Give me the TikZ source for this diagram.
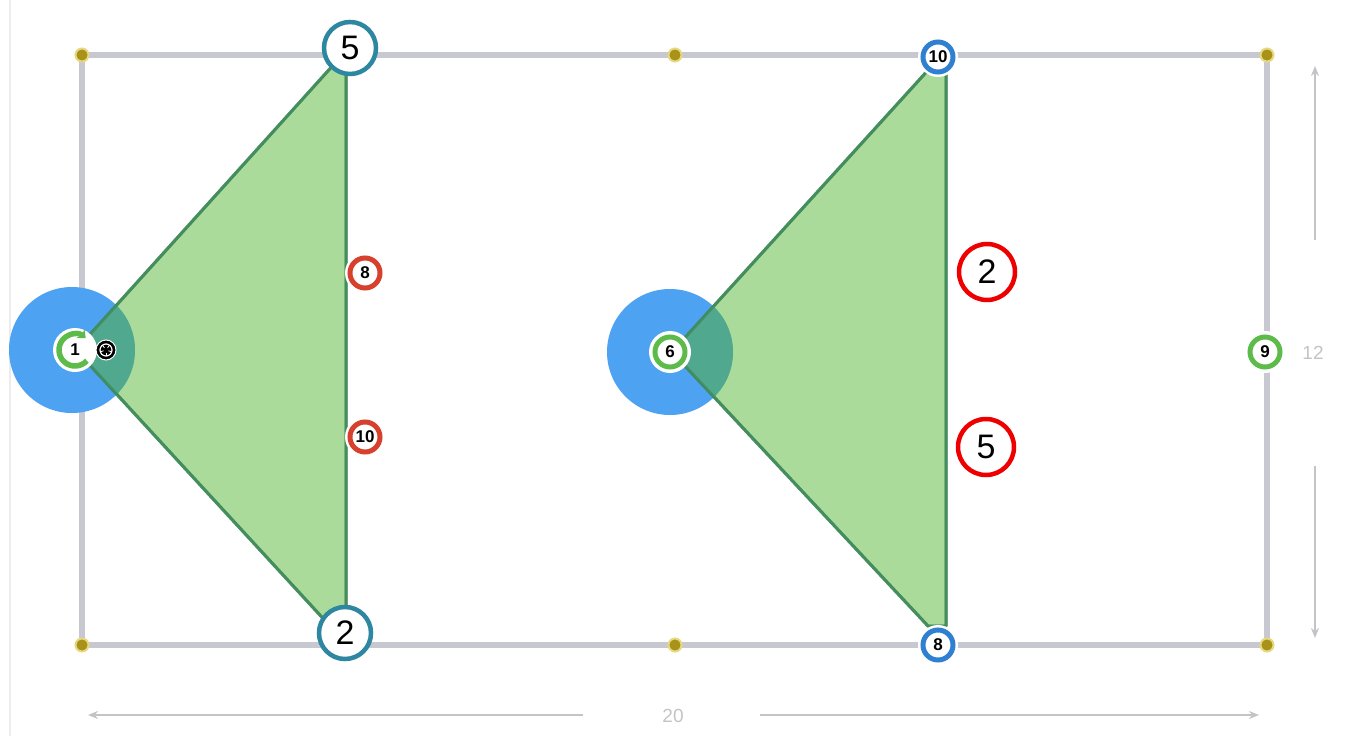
\documentclass[tikz,border=0pt]{standalone}
\usepackage{fontspec}
\setmainfont{Liberation Sans}
\usetikzlibrary{arrows.meta}
\definecolor{fieldgray}{HTML}{C8C8D0}
\definecolor{zoneblue}{HTML}{4DA3F2}
\definecolor{conegreen}{HTML}{8FD07A}
\definecolor{overlap}{HTML}{50A88E}
\definecolor{coneedge}{HTML}{3F8A5A}
\definecolor{teal}{HTML}{2E87A0}
\definecolor{ballred}{HTML}{D8402E}
\definecolor{brightred}{HTML}{EE0000}
\definecolor{ringblue}{HTML}{2F80D0}
\definecolor{ringgreen}{HTML}{5DBB4A}
\definecolor{dotolive}{HTML}{A8921A}
\definecolor{dotedge}{HTML}{E6D880}
\definecolor{dimgray}{HTML}{C4C4C8}
\tikzset{
  bigring/.style={circle, draw=#1, line width=4.5pt, fill=white, minimum size=52pt, inner sep=0pt, font=\fontsize{34}{34}\selectfont},
  smallring/.style={circle, draw=#1, line width=5pt, fill=white, minimum size=30pt, inner sep=0pt, font=\bfseries\fontsize{17}{17}\selectfont},
  halo/.style={circle, fill=white, minimum size=42pt, inner sep=0pt},
  cornerdot/.style={circle, fill=dotolive, draw=dotedge, line width=2pt, minimum size=13pt, inner sep=0pt},
  zone/.style={circle, fill=zoneblue, minimum size=126pt, inner sep=0pt},
  cone/.style={fill=conegreen, fill opacity=0.75, draw=coneedge, draw opacity=0.8, line width=3pt, line join=round},
  dim/.style={dimgray, line width=2.5pt, -{Stealth[length=10pt,width=8pt]}},
  dimlabel/.style={text=dimgray, font=\fontsize{19}{19}\selectfont, inner sep=0pt}
}
\begin{document}
\begin{tikzpicture}[x=1pt,y=-1pt]
\useasboundingbox (0,0) rectangle (1345,736);
\fill[white] (0,0) rectangle (1345,736);
\draw[gray!15, line width=2pt] (10,0) -- (10,736);
% field
\draw[fieldgray, line width=6pt] (82,55) rectangle (1267,645);
% zones
\node[zone] (zoneA) at (72,350) {};
\node[zone] (zoneB) at (670,352) {};
% cones
\fill[cone] (76,350) -- (336,62) -- (346,62) -- (346,626) -- (330,626) -- cycle;
\fill[cone] (672,352) -- (930,68) -- (946,68) -- (946,626) -- (928,626) -- cycle;
\begin{scope}
  \clip (72,350) circle (63pt);
  \fill[overlap] (76,350) -- (336,62) -- (346,62) -- (346,626) -- (330,626) -- cycle;
\end{scope}
\begin{scope}
  \clip (670,352) circle (63pt);
  \fill[overlap] (672,352) -- (930,68) -- (946,68) -- (946,626) -- (928,626) -- cycle;
\end{scope}
\draw[cone, fill=none] (76,350) -- (336,62) -- (346,62) -- (346,626) -- (330,626) -- cycle;
\draw[cone, fill=none] (672,352) -- (930,68) -- (946,68) -- (946,626) -- (928,626) -- cycle;
% corner dots
\node[cornerdot] (c1) at (82,55) {};
\node[cornerdot] (c2) at (675,55) {};
\node[cornerdot] (c3) at (1267,55) {};
\node[cornerdot] (c4) at (82,645) {};
\node[cornerdot] (c5) at (675,645) {};
\node[cornerdot] (c6) at (1267,645) {};
% player 1 with rotation arrow
\fill[white] (75,350) circle (22pt);
\node[circle, fill=white, minimum size=24pt, inner sep=0pt, font=\bfseries\fontsize{17}{17}\selectfont] (p1) at (75,350) {1};
\draw[ringgreen, line width=5.5pt, -{Stealth[length=7pt,width=12pt]}] ([shift={(42:16)}]75,350) arc[start angle=42, end angle=312, radius=16];
% ball
\node[circle, fill=black, draw=white, line width=1pt, minimum size=20pt, inner sep=0pt] (ball) at (106,350) {};
\draw[white, line width=1.2pt] (ball.center) circle (6pt);
\fill[black] (ball.center) circle (2.6pt);
\foreach \a in {90,162,234,306,18} \draw[white, line width=0.8pt] ([shift={(\a:2.6)}]ball.center) -- ([shift={(\a:6)}]ball.center);
% player 6
\node[halo] at (670,352) {};
\node[smallring=ringgreen] (p6) at (670,352) {6};
% big numbered rings
\node[bigring=teal] (t5) at (350,48) {5};
\node[bigring=teal] (t2) at (345,633) {2};
% red small rings
\node[halo, minimum size=40pt] at (365,273) {};
\node[smallring=ballred] (r8) at (365,273) {8};
\node[halo, minimum size=40pt] at (365,437) {};
\node[smallring=ballred] (r10) at (365,437) {10};
% blue small rings
\node[halo, minimum size=40pt] at (938,57) {};
\node[smallring=ringblue] (b10) at (938,57) {10};
\node[halo, minimum size=40pt] at (938,645) {};
\node[smallring=ringblue] (b8) at (938,645) {8};
% bright red rings
\node[bigring=brightred, minimum size=56pt] (x2) at (987,272) {2};
\node[bigring=brightred, minimum size=56pt] (x5) at (986,447) {5};
% player 9
\node[halo] at (1265,352) {};
\node[smallring=ringgreen] (p9) at (1265,352) {9};
% dimensions
\node[dimlabel] (h12) at (1313,353) {12};
\node[dimlabel] (w20) at (673,716) {20};
\coordinate (v1) at (1315,240);
\coordinate (v2) at (1315,66);
\coordinate (v3) at (1315,466);
\coordinate (v4) at (1315,638);
\draw[dim] (v1) -- (v2);
\draw[dim] (v3) -- (v4);
\coordinate (w1) at (583,715);
\coordinate (w2) at (88,715);
\coordinate (w3) at (760,715);
\coordinate (w4) at (1259,715);
\draw[dim] (w1) -- (w2);
\draw[dim] (w3) -- (w4);
\end{tikzpicture}
\end{document}
